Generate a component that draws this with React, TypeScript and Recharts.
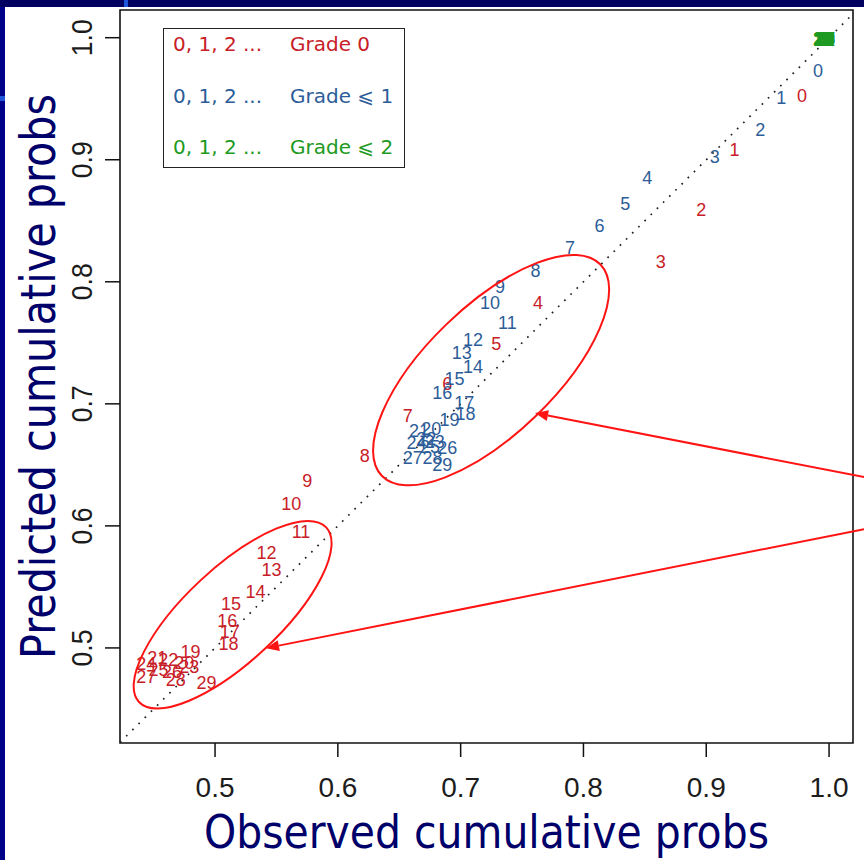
import React from 'react';
import {
  ScatterChart,
  Scatter,
  XAxis,
  YAxis,
  ReferenceLine,
  ReferenceDot,
  ReferenceArea,
  Legend,
} from 'recharts';

// point labels (sample index)
const LABELS = [
  '0', '1', '2', '3', '4', '5', '6', '7', '8', '9',
  '10', '11', '12', '13', '14', '15', '16', '17', '18', '19',
  '20', '21', '22', '23', '24', '25', '26', '27', '28', '29',
];

// Grade 0
const RED_X = [
  0.978, 0.923, 0.896, 0.863, 0.763, 0.729, 0.689, 0.657, 0.622, 0.575,
  0.562, 0.570, 0.542, 0.546, 0.533, 0.513, 0.510, 0.512, 0.511, 0.480,
  0.475, 0.453, 0.462, 0.479, 0.444, 0.454, 0.465, 0.444, 0.468, 0.493,
];
const RED_Y = [
  0.952, 0.908, 0.859, 0.816, 0.783, 0.749, 0.716, 0.690, 0.657, 0.637,
  0.618, 0.595, 0.578, 0.564, 0.546, 0.536, 0.522, 0.513, 0.503, 0.497,
  0.488, 0.492, 0.490, 0.484, 0.487, 0.482, 0.480, 0.476, 0.474, 0.471,
];

// Grade <= 1
const BLUE_X = [
  0.991, 0.961, 0.944, 0.907, 0.852, 0.834, 0.813, 0.789, 0.761, 0.732,
  0.724, 0.738, 0.710, 0.701, 0.710, 0.695, 0.685, 0.703, 0.704, 0.691,
  0.676, 0.666, 0.672, 0.679, 0.664, 0.675, 0.689, 0.661, 0.677, 0.685,
];
const BLUE_Y = [
  0.973, 0.951, 0.924, 0.902, 0.885, 0.864, 0.846, 0.828, 0.809, 0.796,
  0.783, 0.766, 0.752, 0.742, 0.730, 0.720, 0.709, 0.701, 0.692, 0.687,
  0.679, 0.678, 0.671, 0.669, 0.668, 0.665, 0.664, 0.656, 0.656, 0.650,
];

// Grade <= 2 (all piled up near 1)
const GREEN_X = [
  0.998, 0.997, 0.997, 0.996, 0.998, 0.995, 0.996, 0.997, 0.998, 0.996,
  0.995, 0.996, 0.997, 0.996, 0.995, 0.997, 0.996, 0.995, 0.996, 0.997,
  0.996, 0.995, 0.996, 0.997, 0.996, 0.995, 0.996, 0.997, 0.996, 0.995,
];
const GREEN_Y = [
  0.999, 0.998, 0.999, 0.998, 0.999, 0.998, 0.999, 0.999, 0.998, 0.999,
  0.998, 0.999, 0.998, 0.999, 0.998, 0.999, 0.998, 0.999, 0.998, 0.999,
  0.998, 0.999, 0.998, 0.999, 0.998, 0.999, 0.998, 0.999, 0.998, 0.999,
];

const TICKS = [0.5, 0.6, 0.7, 0.8, 0.9, 1.0];
const X_DOMAIN = [0.4226, 1.0195];
const Y_DOMAIN = [0.4221, 1.0227];

const SERIES_NAMES = ['Grade 0', 'Grade \u2A7D 1', 'Grade \u2A7D 2'];
const SERIES_PREFIX = '0, 1, 2 ...';

const RED = '#c82028';
const BLUE = '#2d5d98';
const GREEN = '#1e9a22';
const NAVY = '#00006a';
const MARK = '#ff1414';

const toPoints = (xs: number[], ys: number[]) =>
  xs.map((x, i) => ({ x, y: ys[i], label: LABELS[i] }));

const redData = toPoints(RED_X, RED_Y);
const blueData = toPoints(BLUE_X, BLUE_Y);
const greenData = toPoints(GREEN_X, GREEN_Y);

const labelShape = (color: string) => (props: any) => (
  <text
    x={props.cx}
    y={props.cy}
    textAnchor="middle"
    dominantBaseline="central"
    fontFamily="'Liberation Sans', Arial, sans-serif"
    fontSize={18}
    fill={color}
  >
    {props.payload.label}
  </text>
);

const XTick = ({ x, y, payload }: any) => (
  <text
    x={x}
    y={y}
    dy={20}
    textAnchor="middle"
    fontFamily="'Liberation Sans', Arial, sans-serif"
    fontSize={28}
    fill="#1c1c1c"
  >
    {payload.value.toFixed(1)}
  </text>
);

const YTick = ({ x, y, payload }: any) => (
  <text
    x={x}
    y={y}
    transform={`rotate(-90 ${x} ${y})`}
    textAnchor="middle"
    fontFamily="'Liberation Sans', Arial, sans-serif"
    fontSize={30}
    textLength={37}
    lengthAdjust="spacingAndGlyphs"
    fill="#1c1c1c"
  >
    {payload.value.toFixed(1)}
  </text>
);

const XTitle = ({ viewBox }: any) => (
  <text
    x={viewBox.x + viewBox.width / 2}
    y={viewBox.y + 105}
    textAnchor="middle"
    fontFamily="'DejaVu Sans', Verdana, sans-serif"
    fontSize={47}
    textLength={565}
    lengthAdjust="spacingAndGlyphs"
    fill={NAVY}
  >
    Observed cumulative probs
  </text>
);

const YTitle = ({ viewBox }: any) => {
  const x = viewBox.x + 45;
  const y = viewBox.y + viewBox.height / 2;
  return (
    <text
      x={x}
      y={y}
      transform={`rotate(-90 ${x} ${y})`}
      textAnchor="middle"
      fontFamily="'DejaVu Sans', Verdana, sans-serif"
      fontSize={48}
      textLength={565}
      lengthAdjust="spacingAndGlyphs"
      fill={NAVY}
    >
      Predicted cumulative probs
    </text>
  );
};

const ellipseShape = (rx: number, ry: number, angle: number) => (p: any) => (
  <ellipse
    cx={p.cx}
    cy={p.cy}
    rx={rx}
    ry={ry}
    transform={`rotate(${angle} ${p.cx} ${p.cy})`}
    fill="none"
    stroke={MARK}
    strokeWidth={2}
  />
);

const ArrowShape = (p: any) => {
  const { x1, y1, x2, y2 } = p;
  const a = Math.atan2(y2 - y1, x2 - x1);
  const len = 13;
  const half = 5.5;
  const bx = x2 - len * Math.cos(a);
  const by = y2 - len * Math.sin(a);
  const pts = `${x2},${y2} ${bx + half * Math.sin(a)},${by - half * Math.cos(a)} ${bx - half * Math.sin(a)},${by + half * Math.cos(a)}`;
  return (
    <g>
      <line x1={x1} y1={y1} x2={bx} y2={by} stroke={MARK} strokeWidth={2} />
      <polygon points={pts} fill={MARK} />
    </g>
  );
};

const LegendBox = () => {
  const colors = [RED, BLUE, GREEN];
  const rowTops = [3, 55, 106];
  return (
    <div
      style={{
        position: 'relative',
        width: 242,
        height: 140,
        boxSizing: 'border-box',
        border: '1.5px solid #222',
        background: '#fff',
        fontFamily: "'DejaVu Sans', Verdana, sans-serif",
        fontSize: 20,
        lineHeight: '24px',
      }}
    >
      {SERIES_NAMES.map((name, i) => (
        <div key={name} style={{ position: 'absolute', top: rowTops[i], left: 0, color: colors[i] }}>
          <span style={{ position: 'absolute', left: 9, whiteSpace: 'nowrap' }}>{SERIES_PREFIX}</span>
          <span style={{ position: 'absolute', left: 126, whiteSpace: 'nowrap' }}>{name}</span>
        </div>
      ))}
    </div>
  );
};

export default function App() {
  return (
    <div
      style={{
        position: 'absolute',
        left: 0,
        top: 0,
        width: 864,
        height: 860,
        background: '#000088',
        overflow: 'hidden',
      }}
    >
      <div style={{ position: 'absolute', left: 0, top: 0, width: 864, height: 7, background: '#000060' }} />
      <div style={{ position: 'absolute', left: 124, top: 0, width: 4, height: 7, background: '#1f55d8' }} />
      <div style={{ position: 'absolute', left: 5, top: 7, right: 0, bottom: 0, background: '#fff' }} />
      <div style={{ position: 'absolute', left: 0, top: 96, width: 5, height: 5, background: '#1f55d8' }} />
      <div style={{ position: 'absolute', left: 0, top: 0 }}>
        <ScatterChart
          width={864}
          height={860}
          margin={{ top: 10, right: 11, left: 10, bottom: 17 }}
        >
          <XAxis
            type="number"
            dataKey="x"
            domain={X_DOMAIN}
            allowDataOverflow
            ticks={TICKS}
            axisLine={false}
            tickSize={14}
            tickMargin={20}
            tickLine={{ stroke: '#111', strokeWidth: 1.5 }}
            tick={<XTick />}
            height={100}
            label={{ content: XTitle }}
          />
          <YAxis
            type="number"
            dataKey="y"
            domain={Y_DOMAIN}
            allowDataOverflow
            ticks={TICKS}
            axisLine={false}
            tickSize={15}
            tickMargin={13}
            tickLine={{ stroke: '#111', strokeWidth: 1.5 }}
            tick={<YTick />}
            width={110}
            label={{ content: YTitle }}
          />
          <ReferenceArea
            x1={X_DOMAIN[0]}
            x2={X_DOMAIN[1]}
            y1={Y_DOMAIN[0]}
            y2={Y_DOMAIN[1]}
            fill="#fff"
            fillOpacity={0}
            stroke="#111"
            strokeWidth={1.6}
            strokeOpacity={1}
            ifOverflow="visible"
          />
          <ReferenceLine
            segment={[
              { x: X_DOMAIN[0], y: X_DOMAIN[0] },
              { x: X_DOMAIN[1], y: X_DOMAIN[1] },
            ]}
            stroke="#222"
            strokeWidth={1.7}
            strokeDasharray="1.7 7"
            ifOverflow="visible"
          />
          <Scatter
            name={SERIES_NAMES[0]}
            data={redData}
            fill={RED}
            shape={labelShape(RED)}
            isAnimationActive={false}
          />
          <Scatter
            name={SERIES_NAMES[1]}
            data={blueData}
            fill={BLUE}
            shape={labelShape(BLUE)}
            isAnimationActive={false}
          />
          <Scatter
            name={SERIES_NAMES[2]}
            data={greenData}
            fill={GREEN}
            shape={labelShape(GREEN)}
            isAnimationActive={false}
          />
          <ReferenceDot x={0.7248} y={0.7276} ifOverflow="visible" shape={ellipseShape(152, 64, -44)} />
          <ReferenceDot x={0.5143} y={0.5272} ifOverflow="visible" shape={ellipseShape(128, 47, -43)} />
          <ReferenceLine
            segment={[{ x: 1.0285, y: 0.640 }, { x: 0.7606, y: 0.6924 }]}
            ifOverflow="visible"
            shape={ArrowShape}
          />
          <ReferenceLine
            segment={[{ x: 1.0285, y: 0.5973 }, { x: 0.5415, y: 0.4998 }]}
            ifOverflow="visible"
            shape={ArrowShape}
          />
          <Legend
            layout="vertical"
            align="center"
            verticalAlign="middle"
            wrapperStyle={{ left: 163, top: 28, width: 242, height: 140 }}
            content={() => <LegendBox />}
          />
        </ScatterChart>
      </div>
    </div>
  );
}
